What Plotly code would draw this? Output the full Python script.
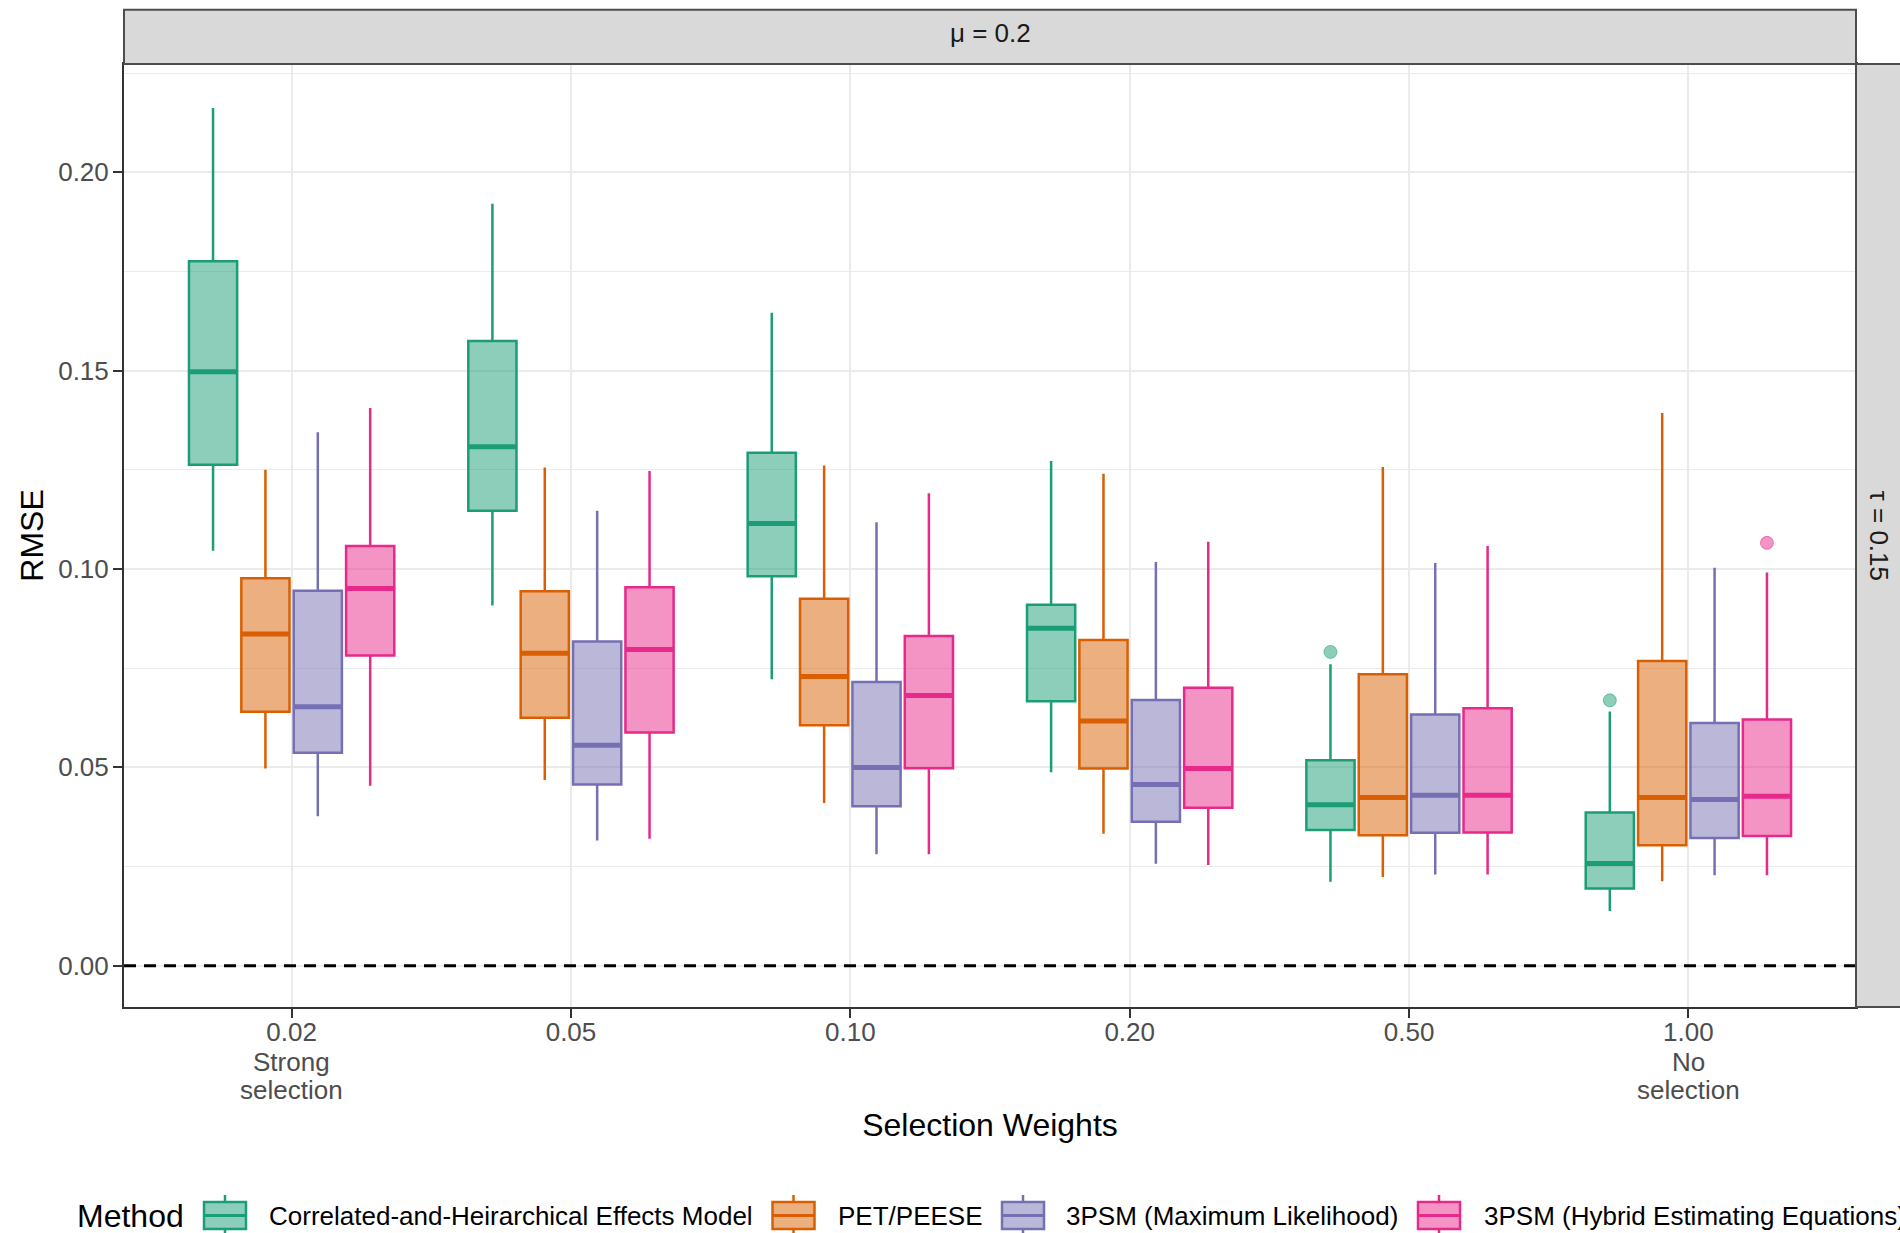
import plotly.graph_objects as go

# ---- data ---------------------------------------------------------------
selection_weights = ["0.02", "0.05", "0.10", "0.20", "0.50", "1.00"]
weight_notes = {"0.02": ["Strong", "selection"], "1.00": ["No", "selection"]}

methods = [
    "Correlated-and-Heirarchical Effects Model",
    "PET/PEESE",
    "3PSM (Maximum Likelihood)",
    "3PSM (Hybrid Estimating Equations)",
]
method_colors = ["#1B9E77", "#D95F02", "#7570B3", "#E7298A"]

# Correlated-and-Heirarchical Effects Model
che_lower = [0.1046, 0.0908, 0.0722, 0.0488, 0.0212, 0.0138]
che_q1 = [0.1263, 0.1147, 0.0982, 0.0667, 0.0342, 0.0195]
che_median = [0.1497, 0.1308, 0.1115, 0.0851, 0.0406, 0.0258]
che_q3 = [0.1776, 0.1575, 0.1293, 0.0910, 0.0518, 0.0386]
che_upper = [0.2162, 0.1921, 0.1646, 0.1272, 0.0760, 0.0641]
che_outlier_x = ["0.50", "1.00"]
che_outlier_y = [0.0791, 0.0669]

# PET/PEESE
pet_lower = [0.0497, 0.0468, 0.0410, 0.0333, 0.0224, 0.0213]
pet_q1 = [0.0640, 0.0625, 0.0606, 0.0497, 0.0329, 0.0304]
pet_median = [0.0836, 0.0788, 0.0729, 0.0617, 0.0424, 0.0424]
pet_q3 = [0.0977, 0.0944, 0.0925, 0.0821, 0.0735, 0.0768]
pet_upper = [0.1250, 0.1256, 0.1261, 0.1240, 0.1257, 0.1393]

# 3PSM (Maximum Likelihood)
ml_lower = [0.0377, 0.0316, 0.0281, 0.0257, 0.0230, 0.0228]
ml_q1 = [0.0537, 0.0457, 0.0402, 0.0363, 0.0335, 0.0322]
ml_median = [0.0653, 0.0556, 0.0500, 0.0457, 0.0430, 0.0419]
ml_q3 = [0.0945, 0.0817, 0.0715, 0.0670, 0.0633, 0.0612]
ml_upper = [0.1345, 0.1147, 0.1118, 0.1018, 0.1015, 0.1003]

# 3PSM (Hybrid Estimating Equations)
hee_lower = [0.0454, 0.0320, 0.0281, 0.0254, 0.0230, 0.0228]
hee_q1 = [0.0782, 0.0588, 0.0498, 0.0398, 0.0336, 0.0327]
hee_median = [0.0951, 0.0797, 0.0681, 0.0497, 0.0430, 0.0427]
hee_q3 = [0.1058, 0.0954, 0.0831, 0.0701, 0.0649, 0.0621]
hee_upper = [0.1406, 0.1247, 0.1191, 0.1069, 0.1058, 0.0991]
hee_outlier_x = ["1.00"]
hee_outlier_y = [0.1066]

stats = {
    methods[0]: (che_lower, che_q1, che_median, che_q3, che_upper, che_outlier_x, che_outlier_y),
    methods[1]: (pet_lower, pet_q1, pet_median, pet_q3, pet_upper, [], []),
    methods[2]: (ml_lower, ml_q1, ml_median, ml_q3, ml_upper, [], []),
    methods[3]: (hee_lower, hee_q1, hee_median, hee_q3, hee_upper, hee_outlier_x, hee_outlier_y),
}

# ---- page geometry ------------------------------------------------------
W, H = 1900, 1233
M = dict(l=124, r=44, t=64, b=226, pad=0)
PLOT_W = W - M["l"] - M["r"]
PLOT_H = H - M["t"] - M["b"]
FONT = "Liberation Sans, Arial, Helvetica, sans-serif"
Y_RANGE = [-0.0104, 0.2273]


def px_x(px):
    return (px - M["l"]) / PLOT_W


def px_y(py):
    return (H - M["b"] - py) / PLOT_H


def rgba(hex_color, alpha):
    h = hex_color.lstrip("#")
    r, g, b = int(h[0:2], 16), int(h[2:4], 16), int(h[4:6], 16)
    return f"rgba({r},{g},{b},{alpha})"


fig = go.Figure()

# boxes
for method, color in zip(methods, method_colors):
    lo, q1, med, q3, hi, ox, oy = stats[method]
    fig.add_trace(go.Box(
        x=selection_weights, q1=q1, median=med, q3=q3,
        lowerfence=lo, upperfence=hi,
        name=method, offsetgroup=method, alignmentgroup="w",
        line=dict(color=color, width=2.5), fillcolor=rgba(color, 0.5),
        whiskerwidth=0, boxpoints=False, showlegend=False,
    ))

# thicker median bars
for method, color in zip(methods, method_colors):
    lo, q1, med, q3, hi, ox, oy = stats[method]
    fig.add_trace(go.Box(
        x=selection_weights, q1=med, median=med, q3=med,
        lowerfence=med, upperfence=med,
        name=method, offsetgroup=method, alignmentgroup="w",
        line=dict(color=color, width=5), fillcolor="rgba(0,0,0,0)",
        whiskerwidth=0, boxpoints=False, showlegend=False, hoverinfo="skip",
    ))

# outlying points
for method, color in zip(methods, method_colors):
    lo, q1, med, q3, hi, ox, oy = stats[method]
    if not ox:
        continue
    fig.add_trace(go.Box(
        x=ox, y=oy, name=method, offsetgroup=method, alignmentgroup="w",
        boxpoints="all", jitter=0, pointpos=0,
        line=dict(color=rgba(color, 0), width=0), fillcolor="rgba(0,0,0,0)",
        marker=dict(color=rgba(color, 0.5), size=13,
                    line=dict(color=rgba(color, 0.55), width=1)),
        whiskerwidth=0, showlegend=False,
    ))

shapes = []
annotations = []

# dashed zero line
shapes.append(dict(type="line", xref="paper", yref="y", x0=0, x1=1, y0=0, y1=0,
                   line=dict(color="black", width=3, dash="12px,8px")))

# facet strips
strip_top = px_y(9.7)
strip_right = px_x(1912)
shapes.append(dict(type="rect", xref="paper", yref="paper", x0=0, x1=1, y0=1, y1=strip_top,
                   fillcolor="#D9D9D9", line=dict(color="#4D4D4D", width=2), layer="above"))
shapes.append(dict(type="rect", xref="paper", yref="paper", x0=1, x1=strip_right, y0=0, y1=1,
                   fillcolor="#D9D9D9", line=dict(color="#4D4D4D", width=2), layer="above"))
annotations.append(dict(text="μ = 0.2", xref="paper", yref="paper", x=0.5, y=px_y(33),
                        xanchor="center", yanchor="middle", showarrow=False,
                        font=dict(family=FONT, size=26, color="#1A1A1A")))
annotations.append(dict(text="τ = 0.15", xref="paper", yref="paper", x=px_x(1879), y=0.5,
                        xanchor="center", yanchor="middle", showarrow=False, textangle=90,
                        font=dict(family=FONT, size=26, color="#1A1A1A")))

# extra lines under the first and last tick labels (category axis: serial positions)
for cat, lines in weight_notes.items():
    for k, line in enumerate(lines):
        annotations.append(dict(text=line, xref="x", yref="paper",
                                x=selection_weights.index(cat),
                                y=px_y(1062 + 27.5 * k), xanchor="center", yanchor="middle",
                                showarrow=False,
                                font=dict(family=FONT, size=26, color="#4D4D4D")))

# legend (bottom, horizontal)
legend_y = 1215.5
legend_key_cx = [225, 793.5, 1023, 1439]
legend_text_x = [267, 836, 1064, 1482]
annotations.append(dict(text="Method", xref="paper", yref="paper", x=px_x(75), y=px_y(legend_y),
                        xanchor="left", yanchor="middle", showarrow=False,
                        font=dict(family=FONT, size=32, color="black")))
for method, color, cx, tx in zip(methods, method_colors, legend_key_cx, legend_text_x):
    shapes.append(dict(type="line", xref="paper", yref="paper", x0=px_x(cx), x1=px_x(cx),
                       y0=px_y(1195), y1=px_y(1240), line=dict(color=color, width=2.5)))
    shapes.append(dict(type="rect", xref="paper", yref="paper",
                       x0=px_x(cx - 21), x1=px_x(cx + 21), y0=px_y(1229), y1=px_y(1202),
                       fillcolor="white", line=dict(width=0)))
    shapes.append(dict(type="rect", xref="paper", yref="paper",
                       x0=px_x(cx - 21), x1=px_x(cx + 21), y0=px_y(1229), y1=px_y(1202),
                       fillcolor=rgba(color, 0.5), line=dict(color=color, width=2.5)))
    shapes.append(dict(type="line", xref="paper", yref="paper",
                       x0=px_x(cx - 21), x1=px_x(cx + 21), y0=px_y(legend_y), y1=px_y(legend_y),
                       line=dict(color=color, width=3)))
    annotations.append(dict(text=method, xref="paper", yref="paper", x=px_x(tx), y=px_y(legend_y),
                            xanchor="left", yanchor="middle", showarrow=False,
                            font=dict(family=FONT, size=26, color="black")))

fig.update_layout(
    width=W, height=H, margin=M,
    paper_bgcolor="white", plot_bgcolor="white",
    font=dict(family=FONT, size=26, color="black"),
    boxmode="group", boxgap=0.25, boxgroupgap=0.08,
    showlegend=False,
    shapes=shapes, annotations=annotations,
)

fig.update_xaxes(
    type="category", categoryorder="array", categoryarray=selection_weights,
    tickvals=selection_weights, ticktext=selection_weights,
    range=[-0.6, len(selection_weights) - 0.4],
    showgrid=True, gridcolor="#EBEBEB", gridwidth=2.2,
    showline=True, mirror=True, linecolor="#333333", linewidth=2,
    ticks="outside", ticklen=9, tickwidth=2, tickcolor="#333333",
    ticklabelstandoff=-8,
    tickfont=dict(family=FONT, size=26, color="#4D4D4D"),
    title=dict(text="Selection Weights", font=dict(family=FONT, size=32, color="black"), standoff=67),
    zeroline=False,
)
fig.update_yaxes(
    range=Y_RANGE,
    tickvals=[0.0, 0.05, 0.10, 0.15, 0.20], tickformat=".2f",
    showgrid=True, gridcolor="#EBEBEB", gridwidth=2.2,
    minor=dict(dtick=0.025, tick0=0, showgrid=True, gridcolor="#EBEBEB", gridwidth=1.2),
    showline=True, mirror=True, linecolor="#333333", linewidth=2,
    ticks="outside", ticklen=9, tickwidth=2, tickcolor="#333333",
    ticklabelstandoff=-1,
    tickfont=dict(family=FONT, size=26, color="#4D4D4D"),
    title=dict(text="RMSE", font=dict(family=FONT, size=32, color="black"), standoff=5),
    zeroline=False,
)

fig.write_html("out.html")
